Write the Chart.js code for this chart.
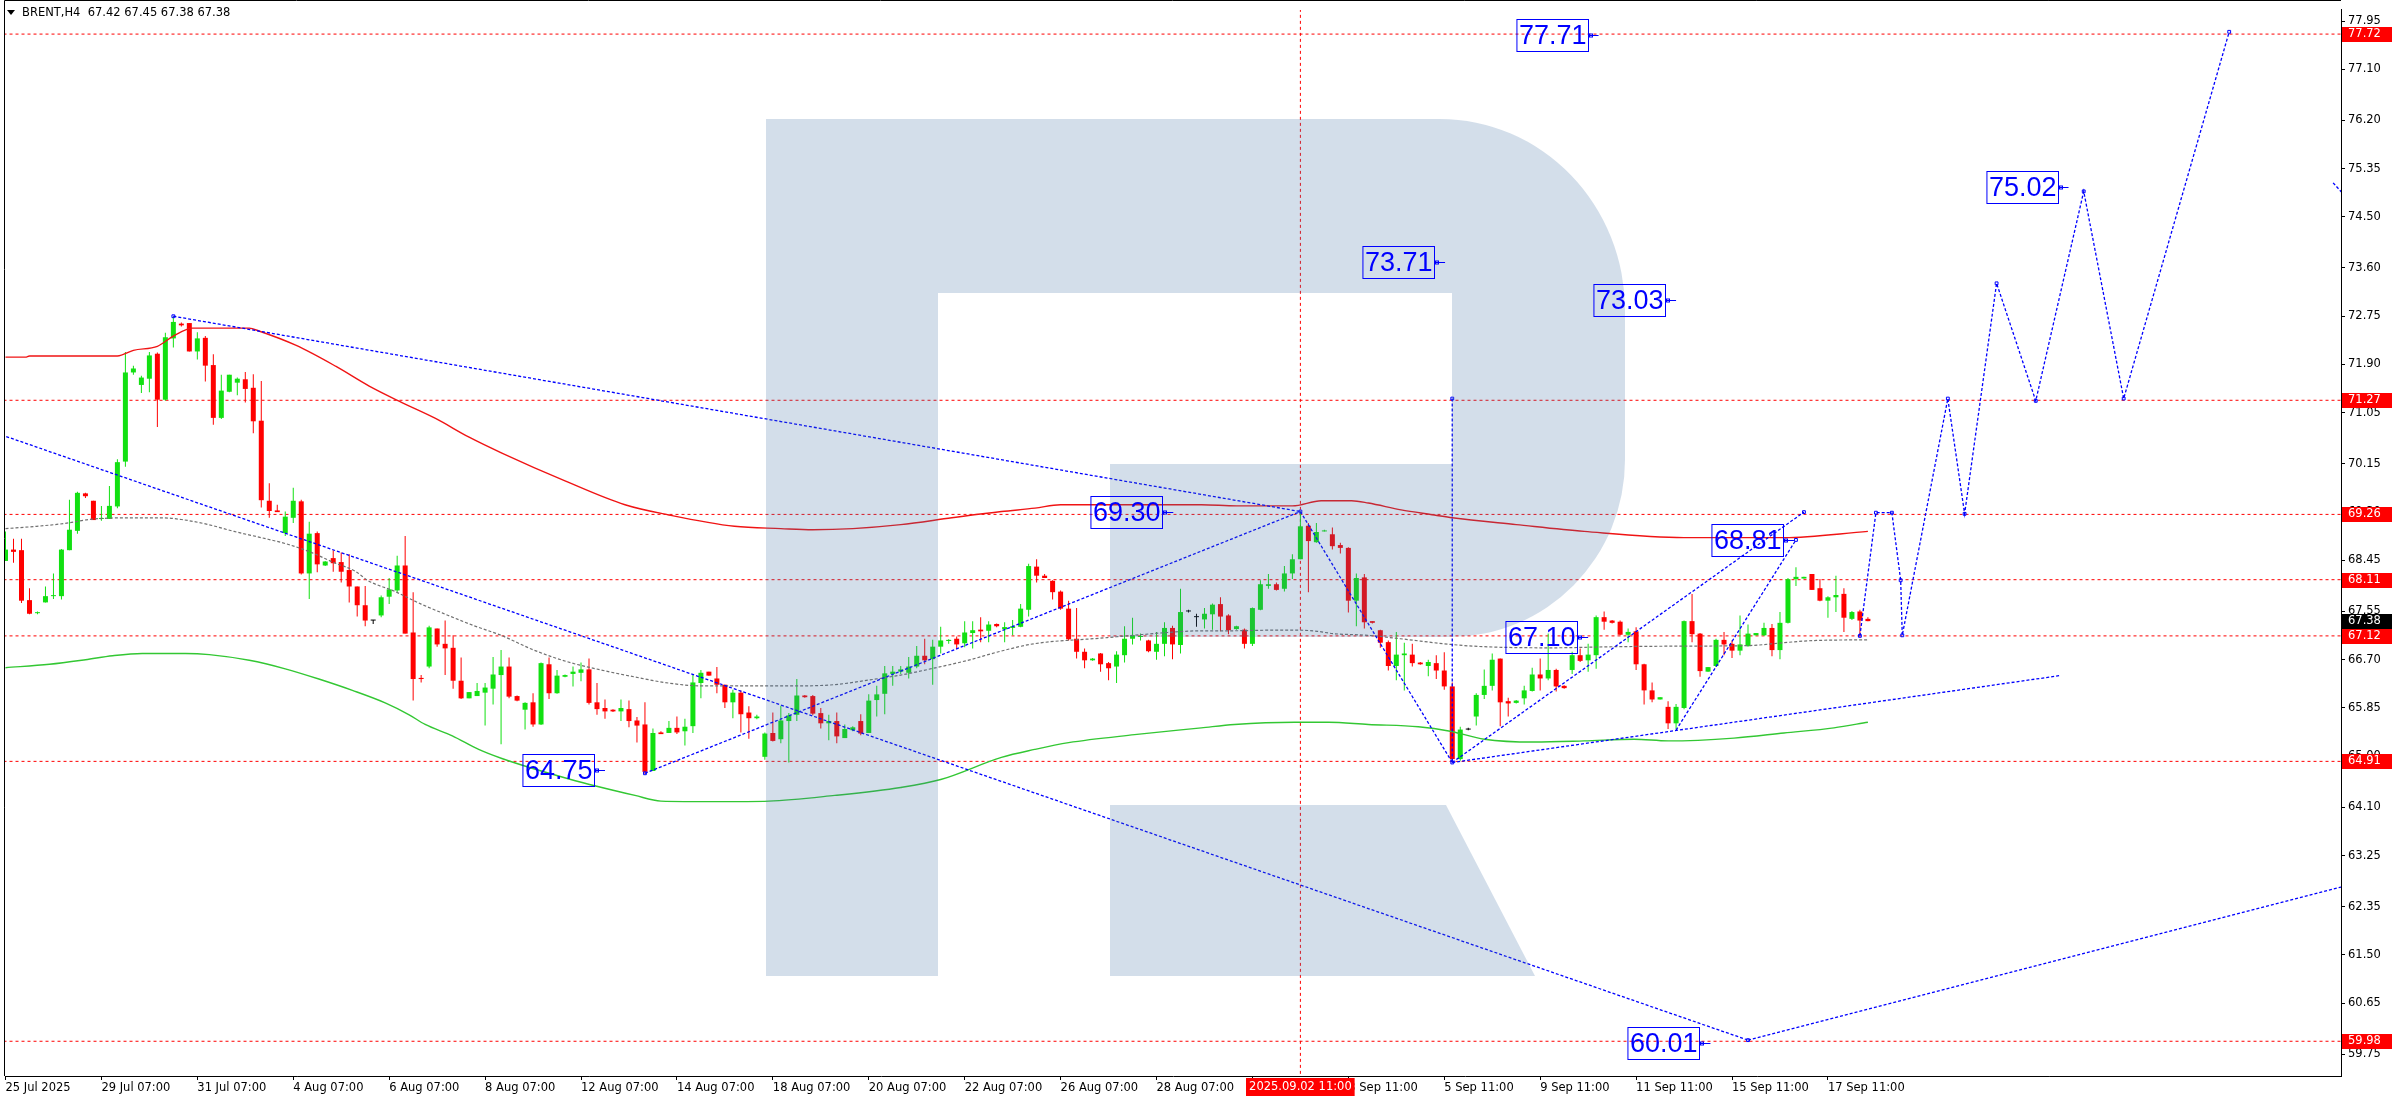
<!DOCTYPE html>
<html>
<head>
<meta charset="utf-8">
<script src="https://cdn.jsdelivr.net/npm/chart.js@4.4.1/dist/chart.umd.min.js"></script>
<style>
  html, body { margin: 0; padding: 0; background: #fff; }
  canvas { display: block; }
</style>
</head>
<body>
<canvas id="chart" width="2392" height="1100"></canvas>
<script>
// BRENT H4, bar index 0 = 25 Jul 2025
const opens = [68.44,68.64,68.63,67.75,67.52,67.71,67.82,67.82,68.63,68.97,69.63,69.50,69.18,69.18,69.40,70.19,71.76,71.54,71.65,72.09,
  71.28,72.36,72.62,72.63,72.13,72.37,71.89,70.96,71.42,71.58,71.64,71.49,70.91,69.50,69.33,68.93,69.20,69.49,68.22,68.93,
  68.36,68.49,68.42,68.28,67.99,67.66,67.39,67.48,67.81,67.92,68.36,67.18,66.38,66.58,67.25,66.98,66.91,66.33,66.02,66.06,
  66.12,66.19,66.43,66.58,66.06,65.82,65.95,65.56,66.62,66.11,66.40,66.45,66.47,66.53,65.95,65.85,65.82,65.79,65.83,65.63,
  65.56,64.74,65.42,65.41,65.50,65.44,65.53,66.29,66.49,66.37,66.26,65.95,66.12,65.77,65.67,64.99,65.41,65.30,65.62,65.73,
  66.07,66.06,65.76,65.58,65.62,65.32,65.46,65.62,65.41,65.99,66.10,66.45,66.49,66.47,66.58,66.77,66.71,66.93,67.03,67.07,
  66.99,67.17,67.23,67.21,67.33,67.235,67.26,67.28,67.58,68.34,68.18,68.09,67.90,67.60,67.07,66.84,66.69,66.81,66.64,66.58,
  66.78,67.07,67.10,67.04,66.84,66.98,67.26,66.96,67.55,67.45,67.41,67.50,67.68,67.48,67.24,67.23,66.98,67.58,68.00,68.03,
  67.95,68.22,68.47,69.06,68.77,68.96,68.91,68.72,68.67,67.74,68.15,67.38,67.22,67.01,66.59,66.78,66.79,66.65,66.59,66.64,
  66.51,66.23,64.95,65.47,65.70,66.08,66.24,66.72,65.97,65.94,66.02,66.15,66.44,66.37,66.52,66.24,66.52,66.78,66.69,66.78,
  67.45,67.39,67.37,67.14,67.20,66.62,66.16,66.00,65.87,65.58,65.85,67.38,67.16,66.49,66.59,67.05,66.98,66.86,66.94,67.13,
  67.13,67.26,66.87,67.35,68.12,68.13,68.21,67.96,67.74,67.80,67.86,67.42,67.55,67.42];
const highs = [68.96,68.83,68.83,67.96,67.55,67.99,68.22,68.65,69.52,69.66,69.64,69.50,69.41,69.76,70.23,72.12,71.88,71.70,72.12,72.11,
  72.46,72.75,72.64,72.63,72.47,72.40,72.08,71.72,71.72,71.67,71.77,71.73,71.61,69.81,69.43,69.31,69.73,69.52,69.13,68.96,
  68.44,68.63,68.59,68.56,67.99,68.00,67.40,67.83,68.14,68.53,68.88,67.89,66.43,67.30,67.25,67.39,67.13,66.74,66.13,66.29,
  66.29,66.75,66.87,66.74,66.07,65.95,66.11,66.65,66.74,66.52,66.44,66.58,66.65,66.72,66.29,66.00,65.83,66.00,65.98,65.69,
  65.95,65.49,65.44,65.62,65.70,65.66,66.43,66.52,66.49,66.57,66.26,66.17,66.16,65.88,65.73,65.42,65.77,65.89,65.76,66.36,
  66.08,66.08,65.85,65.73,65.77,65.56,65.53,65.74,66.09,66.24,66.59,66.59,66.59,66.75,66.94,67.07,67.05,67.28,67.06,67.11,
  67.38,67.38,67.45,67.38,67.34,67.36,67.40,67.68,68.39,68.47,68.21,68.10,67.92,67.74,67.61,66.90,66.73,66.82,66.66,66.85,
  67.29,67.44,67.16,67.05,67.19,67.36,67.30,67.95,67.58,67.51,67.61,67.69,67.80,67.50,67.30,67.25,67.62,68.10,68.21,68.06,
  68.35,68.56,69.31,69.11,69.11,68.99,69.03,68.76,68.68,68.22,68.21,67.38,67.23,67.04,67.19,67.00,66.98,66.66,66.70,66.78,
  66.83,66.30,65.52,65.50,66.11,66.53,66.81,66.72,66.03,65.99,66.24,66.56,66.72,67.16,66.54,66.25,66.84,66.90,66.98,67.48,
  67.55,67.40,67.39,67.25,67.27,66.63,66.30,66.04,65.97,65.92,67.39,67.86,67.17,66.57,67.07,67.19,67.04,67.48,67.32,67.17,
  67.35,67.33,67.54,68.14,68.33,68.16,68.21,68.12,67.82,68.18,67.96,67.56,67.58,67.45];
const lows = [68.44,68.41,67.70,67.50,67.50,67.71,67.77,67.76,68.63,68.92,69.55,69.16,69.15,69.18,69.37,70.10,71.72,71.40,71.41,70.80,
  71.26,72.20,72.57,72.13,71.99,71.60,70.84,70.94,71.41,71.36,71.23,70.69,69.38,69.20,69.30,68.88,69.11,68.20,67.77,68.24,
  68.35,68.25,68.06,67.71,67.46,67.29,67.33,67.45,67.68,67.89,67.16,65.98,66.30,66.55,66.93,66.43,66.19,66.01,66.02,66.06,
  65.54,65.91,65.21,66.02,65.97,65.47,65.52,65.55,66.01,66.10,66.39,66.23,66.32,65.91,65.73,65.66,65.78,65.62,65.51,65.24,
  64.685,64.74,65.39,65.41,65.39,65.19,65.41,66.02,66.42,66.11,65.85,65.67,65.42,65.31,65.65,64.94,65.26,65.23,64.89,65.62,
  66.03,65.72,65.49,65.28,65.23,65.32,65.44,65.37,65.41,65.70,65.74,66.24,66.45,66.37,66.55,66.62,66.26,66.81,66.98,66.89,
  66.92,66.90,67.01,67.01,67.27,67.01,67.13,67.27,67.46,68.06,68.14,67.76,67.58,67.04,66.72,66.55,66.68,66.49,66.34,66.29,
  66.65,66.97,67.04,66.83,66.70,66.76,66.71,66.81,67.53,67.28,67.25,67.23,67.20,67.15,67.23,66.90,66.94,67.57,67.95,67.92,
  67.90,68.12,68.47,67.89,68.76,68.96,68.64,68.57,67.53,67.29,67.25,67.34,66.91,66.51,66.34,66.16,66.58,66.61,66.41,66.36,
  66.17,64.89,64.92,65.46,65.54,66.01,66.16,65.53,65.70,65.93,65.91,66.14,66.16,66.34,66.14,66.19,66.45,66.66,66.49,66.54,
  67.23,67.34,67.13,67.01,66.52,65.91,65.95,66.00,65.48,65.48,65.83,67.01,66.40,66.49,66.57,66.78,66.73,66.78,66.93,67.13,
  67.12,66.76,66.71,67.34,68.00,68.13,67.93,67.73,67.44,67.54,67.19,67.40,67.10,67.38];
const closes = [68.64,68.60,67.74,67.51,67.53,67.82,67.83,68.64,68.99,69.64,69.58,69.16,69.19,69.41,70.18,71.76,71.83,71.67,72.06,71.28,
  72.38,72.65,72.59,72.13,72.36,71.88,70.96,71.44,71.72,71.65,71.47,70.90,69.51,69.32,69.30,69.22,69.50,68.22,68.92,68.38,
  68.43,68.40,68.25,67.99,67.66,67.39,67.39,67.80,67.94,68.36,67.16,66.36,66.36,67.27,66.97,66.90,66.33,66.02,66.13,66.15,
  66.21,66.44,66.58,66.05,65.98,65.94,65.56,66.64,66.11,66.42,66.43,66.49,66.53,65.94,65.83,65.79,65.79,65.85,65.62,65.54,
  64.725,65.41,65.39,65.50,65.42,65.52,66.30,66.47,66.42,66.26,65.95,66.12,65.74,65.67,65.70,65.40,65.27,65.63,65.72,66.07,
  66.04,65.75,65.58,65.62,65.35,65.48,65.51,65.40,65.98,66.09,66.46,66.49,66.53,66.58,66.77,66.69,66.93,67.04,67.05,66.97,
  67.18,67.22,67.20,67.32,67.29,67.275,67.29,67.60,68.35,68.18,68.14,67.89,67.60,67.06,66.84,66.69,66.72,66.62,66.55,66.79,
  67.07,67.13,67.11,66.85,66.98,67.26,66.97,67.54,67.55,67.45,67.51,67.67,67.46,67.22,67.29,66.98,67.61,68.03,68.03,67.93,
  68.22,68.47,69.05,68.79,68.95,68.97,68.70,68.67,67.74,68.14,67.36,67.35,67.00,66.59,66.79,66.81,66.64,66.62,66.66,66.51,
  66.23,64.95,65.47,65.47,66.08,66.24,66.70,65.95,65.93,65.98,66.16,66.44,66.37,66.52,66.23,66.20,66.78,66.68,66.79,67.45,
  67.37,67.35,67.14,67.19,66.62,66.16,66.00,66.04,65.58,65.87,67.38,67.15,66.50,66.57,67.05,66.97,66.86,66.97,67.16,67.17,
  67.26,66.87,67.35,68.12,68.16,68.16,67.93,67.74,67.80,67.84,67.44,67.54,67.39,67.38];

// moving averages, [bar index, price]
const maRed = [[0,72.03],[2.5,72.03],[3,72.05],[14,72.05],[16,72.15],[19,72.22],[21,72.40],[23.4,72.54],[30.5,72.54],[31.7,72.49],
  [36.3,72.24],[41.3,71.87],[45.5,71.52],[49.6,71.23],[53.8,70.95],[58,70.62],[62.1,70.34],[70,69.85],[77.5,69.43],[83,69.25],
  [91.2,69.05],[97,69.01],[101,68.99],[106,69.01],[112,69.08],[118.4,69.20],[124.6,69.31],[128.8,69.37],[132,69.43],[149.6,69.43],
  [154,69.41],[161,69.41],[164.6,69.50],[168.4,69.50],[170.5,69.46],[174.6,69.34],[178.75,69.25],[181,69.20],[189,69.08],
  [197.5,68.96],[210,68.85],[222.5,68.85],[233,68.96]];
const maGreen = [[0,66.56],[5.5,66.62],[10,66.70],[13.4,66.77],[17.1,66.81],[22.5,66.81],[25.5,66.79],[30.5,66.69],[35,66.54],
  [39.2,66.36],[43.4,66.16],[47.5,65.94],[50.5,65.73],[52.5,65.56],[55.9,65.36],[59.2,65.12],[62.1,64.96],[70.5,64.60],[78.75,64.31],
  [82,64.21],[89,64.20],[95.5,64.21],[103.75,64.31],[112,64.45],[117,64.59],[124.6,64.98],[128.75,65.12],[133,65.24],[141.25,65.38],
  [149.6,65.50],[153.75,65.56],[161.25,65.60],[165.5,65.60],[170.5,65.56],[176.75,65.52],[180.75,65.44],[185,65.30],[191.25,65.25],
  [197.5,65.27],[203.75,65.30],[208,65.27],[216.25,65.32],[222.5,65.41],[228.75,65.50],[233,65.60]];
const maGray = [[0,69.01],[3.9,69.05],[7.9,69.11],[10.4,69.17],[15.4,69.20],[19.5,69.20],[22,69.17],[25.4,69.08],[28.6,68.96],
  [32,68.85],[35.4,68.73],[38.25,68.59],[41.1,68.41],[43.75,68.26],[45.4,68.09],[48.6,67.91],[52,67.68],[55.4,67.48],[58.6,67.30],
  [62,67.13],[66.1,66.87],[70.4,66.66],[74.5,66.52],[78.6,66.40],[82.9,66.29],[87,66.24],[99.5,66.24],[103.6,66.26],[107.9,66.34],
  [112,66.43],[116.1,66.55],[120.4,66.69],[124.5,66.85],[128.6,66.98],[137,67.08],[141.1,67.13],[145.4,67.18],[149.5,67.21],
  [153.6,67.21],[157.9,67.22],[162,67.22],[164.1,67.20],[166.1,67.16],[170.4,67.13],[174.5,67.07],[180.75,66.97],[184.9,66.93],
  [193.25,66.91],[201.6,66.93],[209.9,66.94],[218.25,66.95],[222.4,67.00],[226.6,67.04],[232.9,67.05]];

// analysis lines
const trendLines = [
  [[21,72.75],[162,69.31]],
  [[-0.5,70.66],[218,60.0]],
  [[218,60.0],[292.3,62.70]],
  [[80,64.70],[162,69.31]],
  [[162,69.31],[181,64.89]],
  [[181,64.89],[225,69.30]],
  [[209,65.46],[224,68.81]],
  [[181,64.89],[257,66.42]],
  [[181,71.30],[181,64.89]],
  [[291.2,75.10],[292.3,74.93]],
];
const forecast = [[232,67.12],[234,69.29],[236,69.29],[237.1,68.10],[237.3,67.13],[243,71.30],[245.1,69.27],[249.1,73.33],
  [254,71.26],[260,74.95],[265,71.30],[278.2,77.76]];
const markers = [[162,69.31],[225,69.30],[224,68.81],[80,64.70],[181,71.30],[181,64.89],[218,60.0],[21,72.75]];

const levels = [77.72, 71.27, 69.26, 68.11, 67.12, 64.91, 59.98];
const lastPrice = 67.38;
const markBar = 162;
const markLabel = '2025.09.02 11:00';

const noteText = ['77.71','73.71','73.03','69.30','64.75','67.10','68.81','75.02','60.01'];
const noteIdx = [199.3, 180.1, 209, 146.1, 75, 198, 223.75, 258.1, 213.3];
const notePrice = [77.71, 73.71, 73.03, 69.30, 64.75, 67.10, 68.81, 75.02, 59.95];

const yTicks = [77.95,77.10,76.20,75.35,74.50,73.60,72.75,71.90,71.05,70.15,69.30,68.45,67.55,66.70,65.85,65.00,64.10,63.25,62.35,61.50,60.65,59.75];
const xTickIdx = [0,12,24,36,48,60,72,84,96,108,120,132,144,156,168,180,192,204,216,228];
const xTickLabels = ['25 Jul 2025','29 Jul 07:00','31 Jul 07:00','4 Aug 07:00','6 Aug 07:00','8 Aug 07:00','12 Aug 07:00',
  '14 Aug 07:00','18 Aug 07:00','20 Aug 07:00','22 Aug 07:00','26 Aug 07:00','28 Aug 07:00','1 Sep 11:00','3 Sep 11:00',
  '5 Sep 11:00','9 Sep 11:00','11 Sep 11:00','15 Sep 11:00','17 Sep 11:00'];

const header = 'BRENT,H4  67.42 67.45 67.38 67.38';

const bull = '#12e012';
const bear = '#ff0000';
const blue = '#0000ff';
const axisFont = '11.5px "DejaVu Sans"';

const pts = (arr) => arr.map(([x, y]) => ({ x, y }));
const idx = opens.map((_, i) => i);
const candleColor = idx.map((i) => (closes[i] > opens[i] ? bull : closes[i] < opens[i] ? bear : '#000000'));

const lineDs = (data, color, width, dash, order, extra) => Object.assign({
  type: 'line', data: pts(data), borderColor: color, borderWidth: width, borderDash: dash,
  pointRadius: 0, fill: false, tension: 0, order: order,
}, extra || {});

const datasets = [];
levels.forEach((v) => datasets.push(lineDs([[-1, v], [294, v]], '#ff0000', 1, [3, 3], 20)));
datasets.push(lineDs([[markBar, 50], [markBar, 90]], '#ff0000', 1, [3, 3], 20));
datasets.push({
  type: 'bar', data: idx.map((i) => ({ x: i, y: [lows[i], highs[i]] })), backgroundColor: candleColor,
  barThickness: 1, grouped: false, borderWidth: 0, inflateAmount: 0, order: 12,
});
datasets.push({
  type: 'bar', data: idx.map((i) => ({ x: i, y: [opens[i], closes[i]] })), backgroundColor: candleColor,
  barThickness: 5, minBarLength: 1, grouped: false, borderWidth: 0, inflateAmount: 0, order: 11,
});
datasets.push(lineDs(maGray, '#707070', 1.2, [3, 2], 6, { cubicInterpolationMode: 'monotone' }));
datasets.push(lineDs(maGreen, '#33c733', 1.4, [], 5, { cubicInterpolationMode: 'monotone' }));
datasets.push(lineDs(maRed, '#f01414', 1.4, [], 5, { cubicInterpolationMode: 'monotone' }));
trendLines.forEach((seg) => datasets.push(lineDs(seg, blue, 1.3, [3, 2], 3)));
datasets.push(lineDs(forecast, blue, 1.3, [3, 2], 2, {
  pointRadius: 2, pointStyle: 'rect', pointBorderColor: blue, pointBackgroundColor: 'rgba(0,0,0,0)', pointBorderWidth: 1,
}));
datasets.push({
  type: 'scatter', data: pts(markers), pointRadius: 2, pointStyle: 'rect', borderColor: blue,
  backgroundColor: 'rgba(0,0,0,0)', borderWidth: 1, order: 1,
});

const decor = {
  id: 'decor',
  afterDatasetsDraw(chart) {
    const { ctx, chartArea: a } = chart;
    ctx.save();
    ctx.beginPath();
    ctx.rect(a.left, a.top, a.right - a.left, a.bottom - a.top);
    ctx.clip();
    // broker logo watermark
    ctx.fillStyle = 'rgba(62,110,163,0.227)';
    ctx.beginPath();
    ctx.moveTo(766, 119);
    ctx.lineTo(1440, 119);
    ctx.ellipse(1440, 310, 185, 191, 0, -Math.PI / 2, 0);
    ctx.lineTo(1625, 460);
    ctx.ellipse(1450, 460, 175, 177, 0, 0, Math.PI / 2);
    ctx.lineTo(1110, 637);
    ctx.lineTo(1110, 464);
    ctx.lineTo(1452, 464);
    ctx.lineTo(1452, 293);
    ctx.lineTo(938, 293);
    ctx.lineTo(938, 976);
    ctx.lineTo(766, 976);
    ctx.closePath();
    ctx.moveTo(1110, 805);
    ctx.lineTo(1446, 805);
    ctx.lineTo(1535, 976);
    ctx.lineTo(1110, 976);
    ctx.closePath();
    ctx.fill();
    ctx.restore();
  },
  afterDraw(chart) {
    const { ctx, chartArea: a, scales: { x, y } } = chart;
    ctx.save();
    // frame
    ctx.strokeStyle = '#000';
    ctx.lineWidth = 1;
    ctx.beginPath();
    ctx.moveTo(a.left - 0.5, a.bottom);
    ctx.lineTo(a.left - 0.5, 0.5);
    ctx.lineTo(a.right, 0.5);
    ctx.stroke();

    // text notes
    ctx.font = '27px "Liberation Sans"';
    ctx.textBaseline = 'middle';
    noteText.forEach((t, k) => {
      const px = x.getPixelForValue(noteIdx[k]);
      const py = Math.round(y.getPixelForValue(notePrice[k])) + 0.5;
      const w = ctx.measureText(t).width + 4;
      const right = Math.round(px - 11) + 0.5;
      ctx.strokeStyle = blue;
      ctx.lineWidth = 1;
      ctx.strokeRect(right - w, py - 16, w, 32);
      ctx.beginPath();
      ctx.moveTo(right, py);
      ctx.lineTo(px, py);
      ctx.stroke();
      ctx.strokeRect(right + 1, py - 1.5, 3, 3);
      ctx.fillStyle = blue;
      ctx.textAlign = 'center';
      ctx.fillText(t, right - w / 2, py + 1);
    });

    // price tags on the right axis
    ctx.font = axisFont;
    ctx.textAlign = 'left';
    const tag = (v, color) => {
      const py = Math.round(y.getPixelForValue(v));
      ctx.fillStyle = color;
      ctx.fillRect(a.right + 1, py - 7, 2392 - a.right, 15);
      ctx.fillStyle = '#fff';
      ctx.fillText(v.toFixed(2), a.right + 7, py + 0.5);
    };
    levels.forEach((v) => tag(v, '#ff0000'));
    tag(lastPrice, '#000000');

    // time tag
    const tx = x.getPixelForValue(markBar);
    ctx.fillStyle = '#ff0000';
    const tw = ctx.measureText(markLabel).width + 6;
    ctx.fillRect(Math.round(tx - tw / 2), a.bottom + 2, tw, 18);
    ctx.fillStyle = '#fff';
    ctx.textAlign = 'center';
    ctx.fillText(markLabel, tx, a.bottom + 11.5);

    // header
    ctx.fillStyle = '#000';
    ctx.beginPath();
    ctx.moveTo(7, 10);
    ctx.lineTo(15, 10);
    ctx.lineTo(11, 15);
    ctx.closePath();
    ctx.fill();
    ctx.textAlign = 'left';
    ctx.fillText(header, 22, 13);
    ctx.restore();
  },
};

new Chart(document.getElementById('chart'), {
  type: 'bar',
  data: { datasets },
  options: {
    responsive: false,
    animation: false,
    devicePixelRatio: 1,
    layout: { padding: { left: 3, top: 1, right: 0, bottom: 0 } },
    plugins: { legend: { display: false }, tooltip: { enabled: false } },
    scales: {
      x: {
        type: 'linear',
        min: -1 / 16,
        max: 292.25 - 1 / 16,
        offset: false,
        afterFit: (s) => { s.height = 24; },
        afterBuildTicks: (s) => { s.ticks = xTickIdx.map((v) => ({ value: v })); },
        grid: { drawOnChartArea: false, tickLength: 4, color: '#000', offset: false },
        border: { color: '#000' },
        ticks: {
          autoSkip: false, maxRotation: 0, align: 'start', padding: 1, color: '#000',
          font: { family: 'DejaVu Sans', size: 11.5 },
          callback: (v) => xTickLabels[xTickIdx.indexOf(v)],
        },
      },
      y: {
        type: 'linear',
        position: 'right',
        min: 59.368,
        max: 78.146,
        afterFit: (s) => { s.width = 51; },
        afterBuildTicks: (s) => { s.ticks = yTicks.map((v) => ({ value: v })); },
        grid: { drawOnChartArea: false, tickLength: 4, color: '#000' },
        border: { color: '#000' },
        ticks: {
          autoSkip: false, padding: 3, color: '#000',
          font: { family: 'DejaVu Sans', size: 11.5 },
          callback: (v) => v.toFixed(2),
        },
      },
    },
  },
  plugins: [decor],
});
</script>
</body>
</html>
